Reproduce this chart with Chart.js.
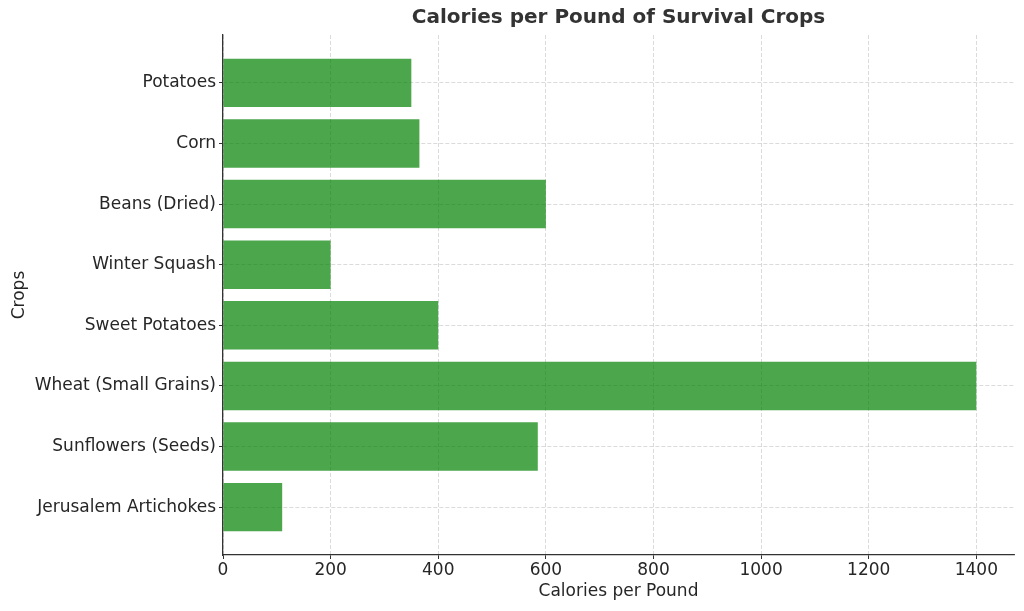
<!DOCTYPE html>
<html>
<head>
<meta charset="utf-8">
<script src="https://cdn.jsdelivr.net/npm/chart.js@4.4.0/dist/chart.umd.min.js"></script>
<style>
  html, body { margin: 0; padding: 0; background: #fff; }
  #wrap { width: 1024px; height: 611px; }
</style>
</head>
<body>
<div id="wrap"><canvas id="myChart" width="1024" height="611"></canvas></div>
<script>
// crops, top to bottom
let crops = ['Potatoes', 'Corn', 'Beans (Dried)', 'Winter Squash', 'Sweet Potatoes',
             'Wheat (Small Grains)', 'Sunflowers (Seeds)', 'Jerusalem Artichokes'];
let calories = [350, 365, 600, 200, 400, 1400, 585, 110];
let xTicks = [0, 200, 400, 600, 800, 1000, 1200, 1400];

let textColor = '#262626';
let gridColor = 'rgba(190,190,190,0.7)';

function makeChart() {
    let points = calories.map(function(v, i) { return {x: v, y: i}; });
    let ctx = document.getElementById('myChart').getContext('2d');
    Chart.defaults.font.family = '"DejaVu Sans", sans-serif';
    Chart.defaults.color = textColor;

    new Chart(ctx, {
        type: 'bar',
        data: {
            datasets: [{
                data: points,
                backgroundColor: 'rgba(0,128,0,0.7)',
                borderWidth: 0,
                categoryPercentage: 1,
                barPercentage: 0.8
            }]
        },
        options: {
            indexAxis: 'y',
            responsive: false,
            animation: false,
            layout: { padding: { left: 0, right: 10, top: 0, bottom: 0 } },
            plugins: {
                legend: { display: false },
                tooltip: { enabled: false },
                title: {
                    display: true,
                    text: 'Calories per Pound of Survival Crops',
                    fullSize: false,
                    color: '#333333',
                    font: { size: 20, weight: 'bold' },
                    padding: { top: 6, bottom: 5 }
                }
            },
            scales: {
                x: {
                    type: 'linear',
                    min: 0,
                    max: 1470,
                    afterBuildTicks: function(scale) {
                        scale.ticks = xTicks.map(function(v) { return {value: v}; });
                    },
                    afterFit: function(scale) { scale.height = 56; },
                    ticks: {
                        font: { size: 17 }, color: textColor, padding: 1, maxRotation: 0,
                        callback: function(v) { return String(v); }
                    },
                    grid: {
                        color: gridColor, lineWidth: 0.8,
                        tickColor: '#333333', tickLength: 4, tickWidth: 1, tickBorderDash: []
                    },
                    border: { display: true, color: '#333333', width: 1.3, dash: [4, 2] },
                    title: {
                        display: true, text: 'Calories per Pound',
                        font: { size: 17 }, color: textColor, padding: { top: 0, bottom: 9 }
                    }
                },
                y: {
                    type: 'linear',
                    reverse: true,
                    offset: false,
                    min: -0.79,
                    max: 7.79,
                    afterBuildTicks: function(scale) {
                        scale.ticks = crops.map(function(c, i) { return {value: i}; });
                    },
                    afterFit: function(scale) { scale.width = 223; },
                    ticks: {
                        font: { size: 17 }, color: textColor, padding: 3,
                        callback: function(v) { return crops[v]; }
                    },
                    grid: {
                        offset: false,
                        color: gridColor, lineWidth: 0.8,
                        tickColor: '#333333', tickLength: 4, tickWidth: 1, tickBorderDash: []
                    },
                    border: { display: true, color: '#333333', width: 1.3, dash: [4, 2] },
                    title: {
                        display: true, text: 'Crops',
                        font: { size: 17 }, color: textColor, padding: { top: 9, bottom: 0 }
                    }
                }
            }
        }
    });
}
makeChart();
</script>
</body>
</html>
